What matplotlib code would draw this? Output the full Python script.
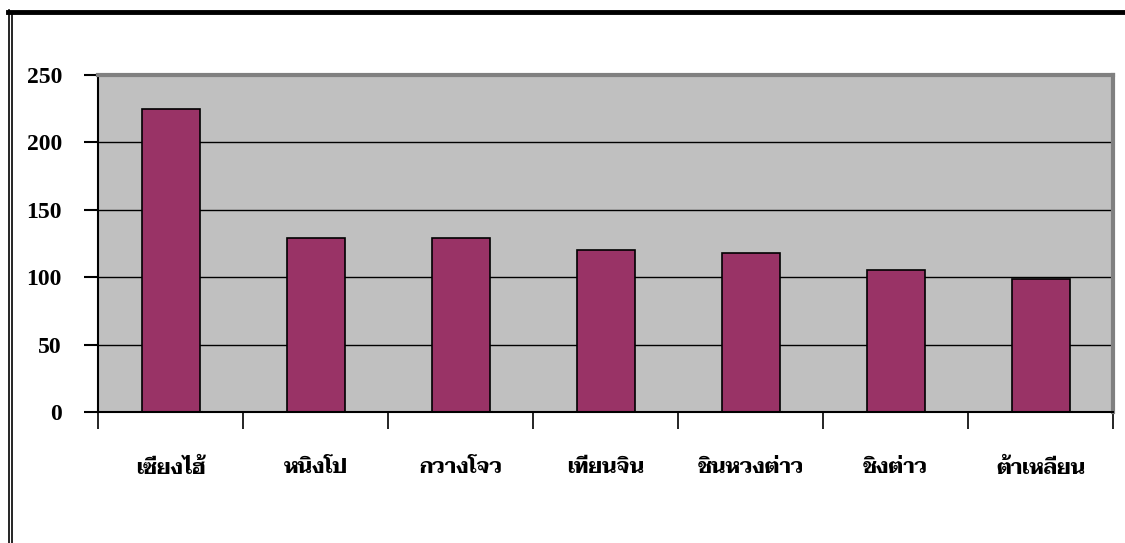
import matplotlib
matplotlib.use("Agg")
import matplotlib.pyplot as plt
from matplotlib.lines import Line2D

ports = ["เซี่ยงไฮ้", "หนิงโป", "กวางโจว", "เทียนจิน", "ชินหวงต่าว", "ชิงต่าว", "ต้าเหลียน"]
values = [225, 129, 129, 120, 118, 105, 99]
yticks = [0, 50, 100, 150, 200, 250]

fig = plt.figure(figsize=(11.25, 5.43), dpi=100)
W, H = 1125, 543

# plot area in pixels: left 98, right 1113, top 75, bottom 412
ax = fig.add_axes([98 / W, 1 - 412 / H, (1113 - 98) / W, (412 - 75) / H])
ax.set_facecolor("#C0C0C0")

x = range(len(ports))
ax.bar(x, values, width=0.4, color="#993366", edgecolor="black", linewidth=1.2, zorder=3)

ax.set_xlim(-0.5, len(ports) - 0.5)
ax.set_ylim(0, 250)
ax.set_yticks(yticks)
ax.yaxis.grid(True, color="black", linewidth=1.0, zorder=1)
ax.set_axisbelow(True)

ax.set_yticklabels([str(v) for v in yticks], fontfamily="Liberation Serif",
                   fontweight="bold", fontsize=17)
ax.tick_params(axis="y", direction="out", length=10, width=1.5, pad=16, colors="black")

# category separators on the x axis
ax.set_xticks([i - 0.5 for i in range(len(ports) + 1)])
ax.set_xticklabels([])
ax.tick_params(axis="x", direction="out", length=12, width=1.2)
for i, name in enumerate(ports):
    ax.text(i, -0.165, name, transform=ax.get_xaxis_transform(), ha="center", va="center",
            fontfamily="Taviraj", fontweight="bold", fontsize=15)

for side in ["top", "right"]:
    ax.spines[side].set_color("#808080")
    ax.spines[side].set_linewidth(3)
for side in ["left", "bottom"]:
    ax.spines[side].set_color("black")
    ax.spines[side].set_linewidth(1.5)
ax.spines["bottom"].set_zorder(4)

# outer frame: heavy top rule and double line on the left
fig.add_artist(Line2D([8 / W, 1.0], [1 - 11.5 / H, 1 - 11.5 / H], color="black", linewidth=3.5))
fig.add_artist(Line2D([9 / W, 9 / W], [0, 1 - 10 / H], color="black", linewidth=1.2))
fig.add_artist(Line2D([12 / W, 12 / W], [0, 1 - 13 / H], color="black", linewidth=1.2))

fig.savefig("out.png", dpi=100)
